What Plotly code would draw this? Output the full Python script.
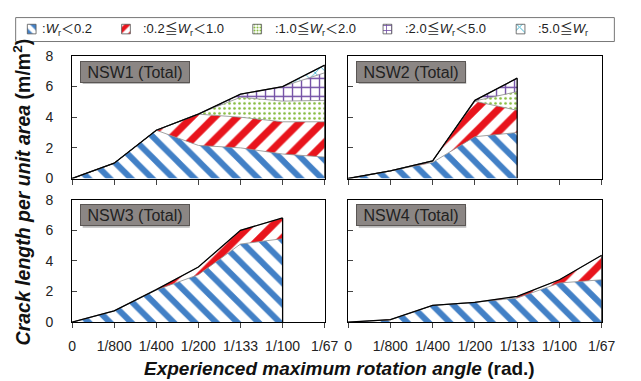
import numpy as np
import plotly.graph_objects as go

# ---------------- data ----------------
x_labels = ["0", "1/800", "1/400", "1/200", "1/133", "1/100", "1/67"]
x_pos = list(range(len(x_labels)))
y_ticks = [0, 2, 4, 6, 8]

category_names = [":<i>W</i><sub>r</sub>＜0.2",
                  ":0.2≦<i>W</i><sub>r</sub>＜1.0",
                  ":1.0≦<i>W</i><sub>r</sub>＜2.0",
                  ":2.0≦<i>W</i><sub>r</sub>＜5.0",
                  ":5.0≦<i>W</i><sub>r</sub>"]

# crack length per unit area (m/m2) for each crack-width class
nsw1_wr_lt_0_2 = [0, 1.0, 3.15, 2.16, 2.0, 1.6, 1.4]
nsw1_wr_0_2_1_0 = [0, 0, 0, 2.04, 2.0, 2.1, 2.3]
nsw1_wr_1_0_2_0 = [0, 0, 0, 0, 1.3, 1.35, 1.4]
nsw1_wr_2_0_5_0 = [0, 0, 0, 0, 0.2, 0.95, 1.8]
nsw1_wr_ge_5_0 = [0, 0, 0, 0, 0, 0, 0.5]

nsw2_wr_lt_0_2 = [0, 0.5, 1.05, 2.73, 3.0]
nsw2_wr_0_2_1_0 = [0, 0, 0.1, 2.31, 1.45]
nsw2_wr_1_0_2_0 = [0, 0, 0, 0.02, 1.22]
nsw2_wr_2_0_5_0 = [0, 0, 0, 0.04, 0.88]
nsw2_wr_ge_5_0 = [0, 0, 0, 0, 0]

nsw3_wr_lt_0_2 = [0, 0.74, 2.1, 3.1, 5.1, 5.45]
nsw3_wr_0_2_1_0 = [0, 0, 0.03, 0.5, 0.9, 1.35]

nsw4_wr_lt_0_2 = [0, 0.15, 1.1, 1.3, 1.58, 2.56, 2.77]
nsw4_wr_0_2_1_0 = [0, 0.02, 0, 0, 0.1, 0.21, 1.6]

panel_titles = ["NSW1 (Total)", "NSW2 (Total)", "NSW3 (Total)", "NSW4 (Total)"]

# ---------------- styles ----------------
FONT = "Liberation Sans, Arial, Noto Sans CJK JP"
colors = ["#4280c6", "#e8141c", "#86bc3e", "#7350a6", "#3ab2d0"]
shapes_p = ["\\", "/", ".", "+", "x"]
psizes = [15, 16, 5, 9, 8]
psolid = [0.4, 0.45, 0.22, 0.28, 0.2]

panels = [
    [nsw1_wr_lt_0_2, nsw1_wr_0_2_1_0, nsw1_wr_1_0_2_0, nsw1_wr_2_0_5_0, nsw1_wr_ge_5_0],
    [nsw2_wr_lt_0_2, nsw2_wr_0_2_1_0, nsw2_wr_1_0_2_0, nsw2_wr_2_0_5_0, nsw2_wr_ge_5_0],
    [nsw3_wr_lt_0_2, nsw3_wr_0_2_1_0],
    [nsw4_wr_lt_0_2, nsw4_wr_0_2_1_0],
]

W, H = 641, 381
px_x = lambda v: v / W
px_y = lambda v: (H - v) / H
x_domains = [[px_x(70), px_x(330)], [px_x(354), px_x(615)]]
y_domains = [[px_y(178), px_y(50)], [px_y(328), px_y(200)]]
LEG_H = 40

fig = go.Figure()

for p, layers in enumerate(panels):
    ax = "" if p == 0 else str(p + 1)
    xa, ya = "x" + ax, "y" + ax
    n = len(layers[0])
    xs = x_pos[:n]
    cum = np.zeros(n)
    for k, layer in enumerate(layers):
        cum = cum + np.array(layer, dtype=float)
        fig.add_trace(go.Scatter(
            x=xs, y=cum.tolist(), xaxis=xa, yaxis=ya, mode="lines",
            line=dict(color="#8a8a8a", width=0.8),
            fill="tozeroy" if k == 0 else "tonexty",
            fillcolor="white",
            fillpattern=dict(shape=shapes_p[k], fgcolor=colors[k], bgcolor="white",
                             fgopacity=1, size=psizes[k], solidity=psolid[k],
                             fillmode="replace"),
            showlegend=False, hoverinfo="skip"))
    fig.add_trace(go.Scatter(x=xs, y=cum.tolist(), xaxis=xa, yaxis=ya, mode="lines",
                             line=dict(color="black", width=1.3),
                             showlegend=False, hoverinfo="skip"))
    fig.add_trace(go.Scatter(x=[xs[-1], xs[-1]], y=[0, cum[-1]], xaxis=xa, yaxis=ya,
                             mode="lines", line=dict(color="black", width=1.3),
                             showlegend=False, hoverinfo="skip"))

# legend swatches on a pixel-space strip axis (top 40 px of the page)
sw_x = [24, 121, 256, 390, 527]
txt_x = [37, 141, 277, 411, 547]
for k in range(5):
    x0 = sw_x[k]
    fig.add_trace(go.Scatter(
        x=[x0, x0 + 9, x0 + 9, x0, x0], y=[17, 17, 27, 27, 17], xaxis="x5", yaxis="y5",
        mode="lines", fill="toself", fillcolor="white",
        line=dict(color="#555555", width=0.8),
        fillpattern=dict(shape=shapes_p[k], fgcolor=colors[k], bgcolor="white", fgopacity=1,
                         fillmode="replace",
                         size=[9, 9, 3, 5, 9][k], solidity=[0.5, 0.5, 0.35, 0.3, 0.2][k]),
        showlegend=False, hoverinfo="skip"))

layout = dict(
    width=W, height=H, autosize=False,
    margin=dict(l=0, r=0, t=0, b=0),
    paper_bgcolor="white", plot_bgcolor="rgba(0,0,0,0)",
    font=dict(family=FONT, size=14, color="#222222"),
    showlegend=False,
)

for p in range(4):
    ax = "" if p == 0 else str(p + 1)
    col, row = p % 2, p // 2
    layout["xaxis" + ax] = dict(
        domain=x_domains[col], anchor="y" + ax, range=[0, 6],
        tickvals=x_pos, ticktext=x_labels, showticklabels=(row == 1),
        ticks="outside", ticklen=5, tickcolor="#444", showline=True, mirror=True,
        linecolor="black", linewidth=1, showgrid=False, zeroline=False,
        ticklabelstandoff=6, tickfont=dict(size=14, color="#222"), fixedrange=True)
    layout["yaxis" + ax] = dict(
        domain=y_domains[row], anchor="x" + ax, range=[0, 8],
        tickvals=y_ticks, showticklabels=(col == 0),
        ticks="inside", ticklen=5, tickcolor="#444", showline=True, mirror=True,
        linecolor="black", linewidth=1, showgrid=False, zeroline=False,
        ticklabelstandoff=15, tickfont=dict(size=14, color="#222"), fixedrange=True)

layout["xaxis5"] = dict(domain=[0, 1], anchor="y5", range=[0, W], visible=False, fixedrange=True)
layout["yaxis5"] = dict(domain=[px_y(LEG_H), 1], anchor="x5", range=[LEG_H, 0],
                        visible=False, fixedrange=True)

shapes = [dict(type="rect", xref="x5", yref="y5", x0=12, x1=628, y0=10, y1=35,
               line=dict(color="#777777", width=1), fillcolor="rgba(0,0,0,0)")]
annotations = []
for k in range(5):
    annotations.append(dict(xref="x5", yref="y5", x=txt_x[k], y=22.5, xanchor="left",
                            yanchor="middle", text=category_names[k], showarrow=False,
                            font=dict(size=13, color="#222")))

for p in range(4):
    ax = "" if p == 0 else str(p + 1)
    shapes.append(dict(type="rect", xref="x" + ax + " domain", yref="y" + ax + " domain",
                       x0=0.042, x1=0.466, y0=0.77, y1=0.94,
                       line=dict(width=0), fillcolor="rgba(60,60,60,0.35)", layer="above"))
    annotations.append(dict(xref="x" + ax + " domain", yref="y" + ax + " domain",
                            x=0.031, y=0.962, xanchor="left", yanchor="top",
                            text=panel_titles[p], showarrow=False,
                            font=dict(size=16, color="#222"),
                            bgcolor="#8b8684", bordercolor="#5a5654", borderwidth=1,
                            borderpad=1, width=106, height=18))

annotations.append(dict(xref="paper", yref="paper", x=px_x(18), y=px_y(192),
                        xanchor="center", yanchor="middle", textangle=-90,
                        text="<b><i>Crack length per unit area</i> (m/m<sup>2</sup>)</b>",
                        showarrow=False, font=dict(size=19.5, color="#111")))
annotations.append(dict(xref="paper", yref="paper", x=px_x(345), y=px_y(368),
                        xanchor="center", yanchor="middle", yshift=-8,
                        text="<b><i>Experienced maximum rotation angle</i> (rad.)</b>",
                        showarrow=False, font=dict(size=19, color="#111")))

layout["shapes"] = shapes
layout["annotations"] = annotations
fig.update_layout(**layout)

fig.write_html("out.html")
